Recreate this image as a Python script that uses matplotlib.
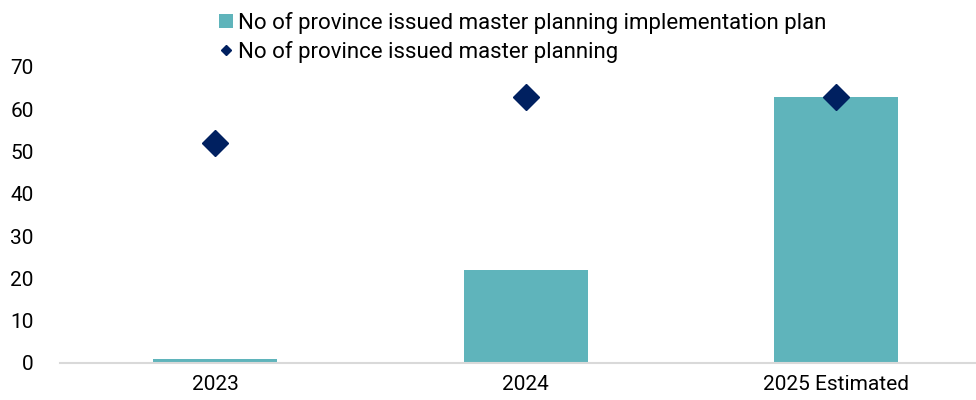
import matplotlib
matplotlib.use("Agg")
import matplotlib.pyplot as plt
from matplotlib.lines import Line2D
from matplotlib.patches import Patch
import numpy as np

plt.rcParams['font.family'] = ['Roboto', 'DejaVu Sans']

categories = ["2023", "2024", "2025 Estimated"]
implementation_plan = [1, 22, 63]
master_planning = [52, 63, 63]

bar_label = "No of province issued master planning implementation plan"
point_label = "No of province issued master planning"

bar_color = "#5fb4bb"
point_color = "#002060"

fig = plt.figure(figsize=(9.76, 4.0), dpi=100)
ax = fig.add_axes([60 / 976, 37 / 400, 916 / 976, 296 / 400])

x = np.arange(len(categories))
ax.bar(x, implementation_plan, width=0.4, color=bar_color, zorder=2)
ax.plot(x, master_planning, linestyle="none", marker="D", markersize=13,
        color=point_color, zorder=3)

ax.set_xlim(-0.5, 2.45)
ax.set_ylim(0, 70)
ax.set_yticks(np.arange(0, 71, 10))
ax.set_xticks(x)
ax.set_xticklabels(categories)
ax.tick_params(axis="both", length=0, labelsize=15, colors="#000000")
ax.tick_params(axis="y", pad=19)
ax.tick_params(axis="x", pad=9)

for side in ("left", "right", "top"):
    ax.spines[side].set_visible(False)
ax.spines["bottom"].set_color("#d9d9d9")
ax.spines["bottom"].set_linewidth(1.5)

handles = [
    Patch(facecolor=bar_color, edgecolor="none"),
    Line2D([], [], linestyle="none", marker="D", markersize=5, color=point_color),
]
fig.legend(handles, [bar_label, point_label], loc="upper left",
           bbox_to_anchor=(207 / 976, 1.0), frameon=False, fontsize=16,
           handlelength=0.6, handleheight=0.6, handletextpad=0.25,
           labelspacing=0.3, borderaxespad=0.15)

fig.savefig("out.png", dpi=100)
